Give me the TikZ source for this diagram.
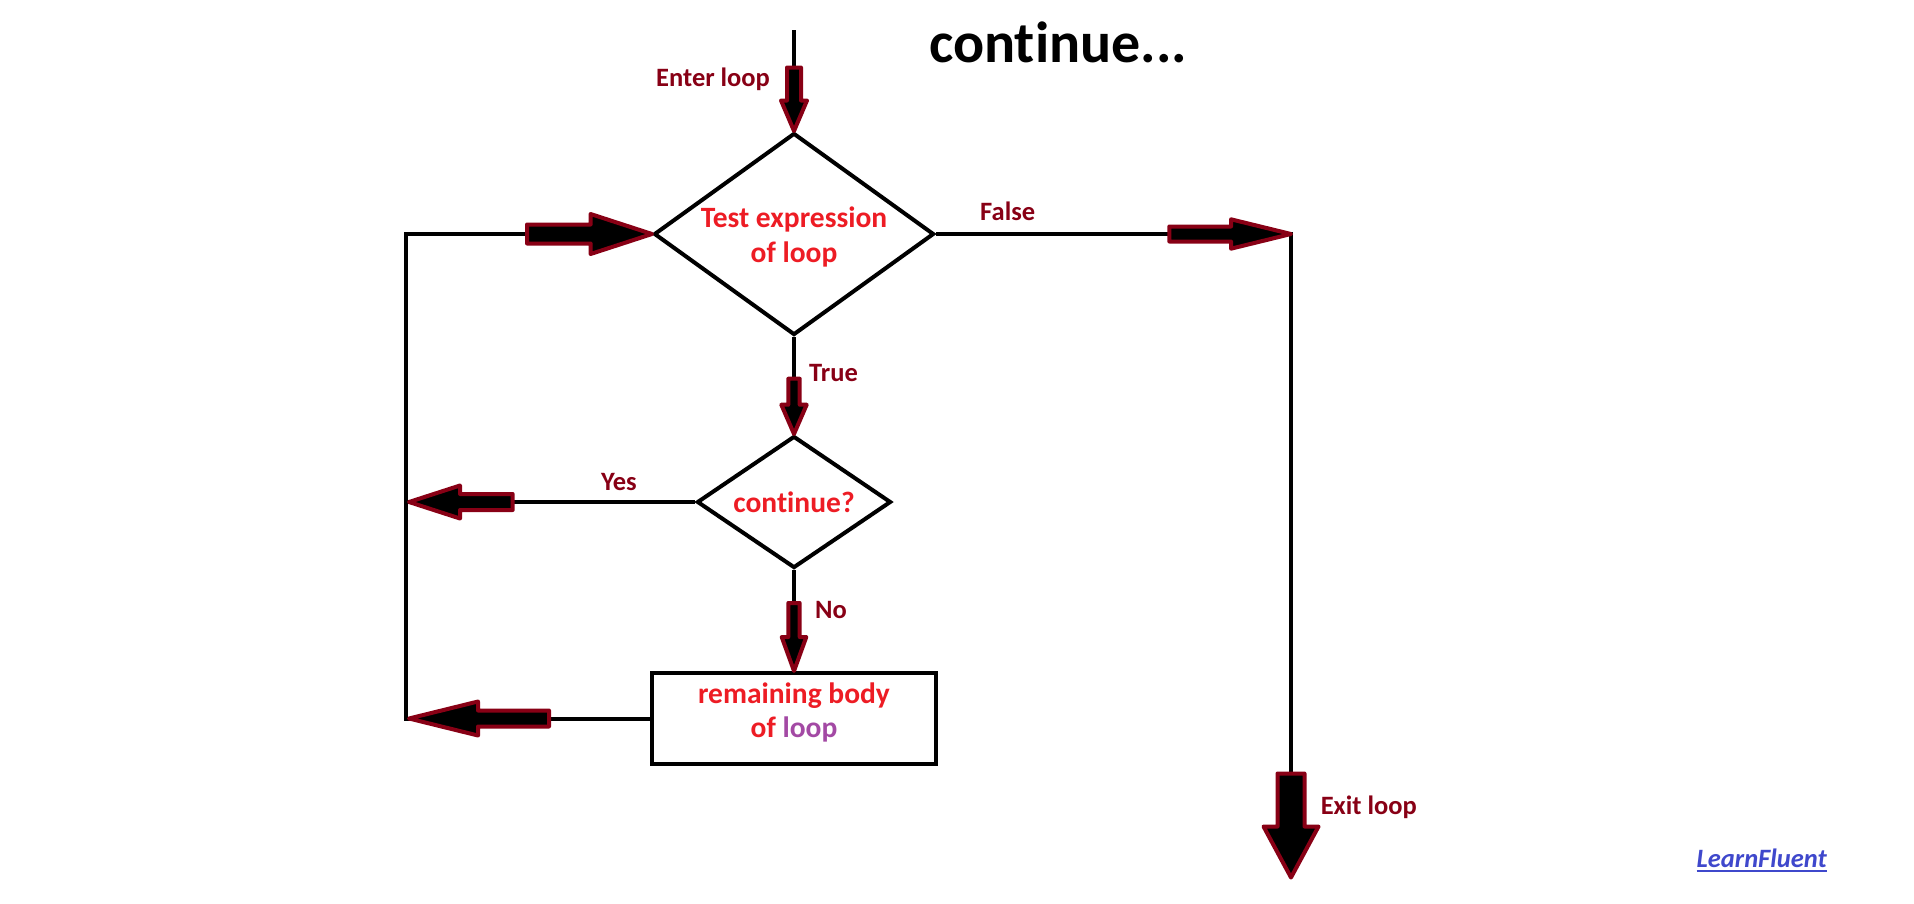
\documentclass[tikz,border=0pt]{standalone}
\usepackage{fontspec}
\setmainfont{Carlito}[Ligatures=NoCommon]
\usepackage{tikz}
\usetikzlibrary{shapes.geometric}
\definecolor{lblred}{HTML}{880015}
\definecolor{txtred}{HTML}{ED1C24}
\definecolor{txtpurple}{HTML}{A349A4}
\definecolor{brandblue}{HTML}{3F48CC}
\begin{document}
\begin{tikzpicture}[x=1pt,y=-1pt]
			\tikzset{decision/.style = {shape=diamond,draw,line width=4pt,
					inner sep=0pt}}
			\tikzset{process/.style = {shape=rectangle,draw,line width=4pt,
					inner sep=0pt}}
			\tikzset{flow/.style = {line width=4pt}}
			\tikzset{boxtext/.style = {text=txtred,align=center,
					font=\fontsize{29.5}{34.5}\selectfont\bfseries}}
			\tikzset{lbl/.style = {text=lblred,inner sep=0pt,anchor=base west,
					font=\fontsize{26.5}{30}\selectfont\bfseries}}
			\tikzset{pics/blkarrow/.style n args={4}{code={
					\draw[line width=4pt,draw=lblred,fill=black,line join=round]
					(0,0) -- (-#2,#4) -- (-#2,#3) -- (-#1,#3) -- (-#1,-#3)
					-- (-#2,-#3) -- (-#2,-#4) -- cycle;}}}
			
			\useasboundingbox (0,0) rectangle (1914,903);
			
			% vertices
			\node[decision,minimum width=280pt,minimum height=202pt,
				label={[boxtext,yshift=-3pt]center:Test expression\\of loop}] (test) at (794,234) {};
			\node[decision,minimum width=194pt,minimum height=132pt,
				label={[boxtext]center:continue?}] (cont) at (794,502) {};
			\node[process,minimum width=284pt,minimum height=91pt,
				label={[boxtext,yshift=6pt]center:remaining body\\of \textcolor{txtpurple}{loop}}] (body) at (794,718.5) {};
			
			\coordinate (entry) at (794,30);
			\coordinate (backtop) at (406,234);
			\coordinate (backbot) at (406,720);
			\coordinate (exittop) at (1291,234);
			\coordinate (exit) at (1291,877.5);
			
			% texts
			\node[font=\fontsize{58}{60}\selectfont\bfseries,inner sep=0pt,
				anchor=base west] (title) at (929,62.7) {continue...};
			\node[lbl] (enterlbl) at (656,86.5) {Enter loop};
			\node[lbl] (falselbl) at (980,220.7) {False};
			\node[lbl] (truelbl) at (809,381.5) {True};
			\node[lbl] (yeslbl) at (601,490.7) {Yes};
			\node[lbl] (nolbl) at (815,618.3) {No};
			\node[lbl] (exitlbl) at (1320.6,814) {Exit loop};
			\node[font=\fontsize{26.5}{30}\selectfont\bfseries\itshape,text=brandblue,
				inner sep=0pt,anchor=base west] (brand) at (1696.5,867.5) {LearnFluent};
			\draw[brandblue,line width=2pt] ([yshift=-3.5pt]brand.base west)
				-- ([yshift=-3.5pt]brand.base east);
			
			%edges
			\draw[flow] (entry) -- (test.north);
			\draw[flow] (test.south) -- (cont.north);
			\draw[flow] (cont.south) -- (body.north);
			\draw[flow] (cont.west) -- (cont.west -| backtop);
			\draw[flow] (body.west) -- (body.west -| backbot) -- (backtop) -- (test.west);
			\draw[flow] (test.east) -- (exittop) -- (exit);
			
			% block arrows
			\pic[rotate=-90] at (test.north) {blkarrow={63.5}{30.5}{7}{13}};
			\pic at (test.west) {blkarrow={125}{61.4}{9.5}{20}};
			\pic[rotate=-90] at (cont.north) {blkarrow={55.3}{29.3}{5.7}{12.7}};
			\pic[rotate=180] at ([xshift=3pt]cont.west -| backtop) {blkarrow={103.7}{51}{8}{16.5}};
			\pic[rotate=-90] at (body.north) {blkarrow={68}{34}{5.7}{12.3}};
			\pic[rotate=180] at ([xshift=3pt]body.west -| backbot) {blkarrow={140}{69}{8}{17}};
			\pic at (exittop) {blkarrow={121.7}{60}{7.5}{14.7}};
			\pic[rotate=-90] at (exit) {blkarrow={104}{51}{13.5}{27.5}};
			
\end{tikzpicture}
\end{document}
